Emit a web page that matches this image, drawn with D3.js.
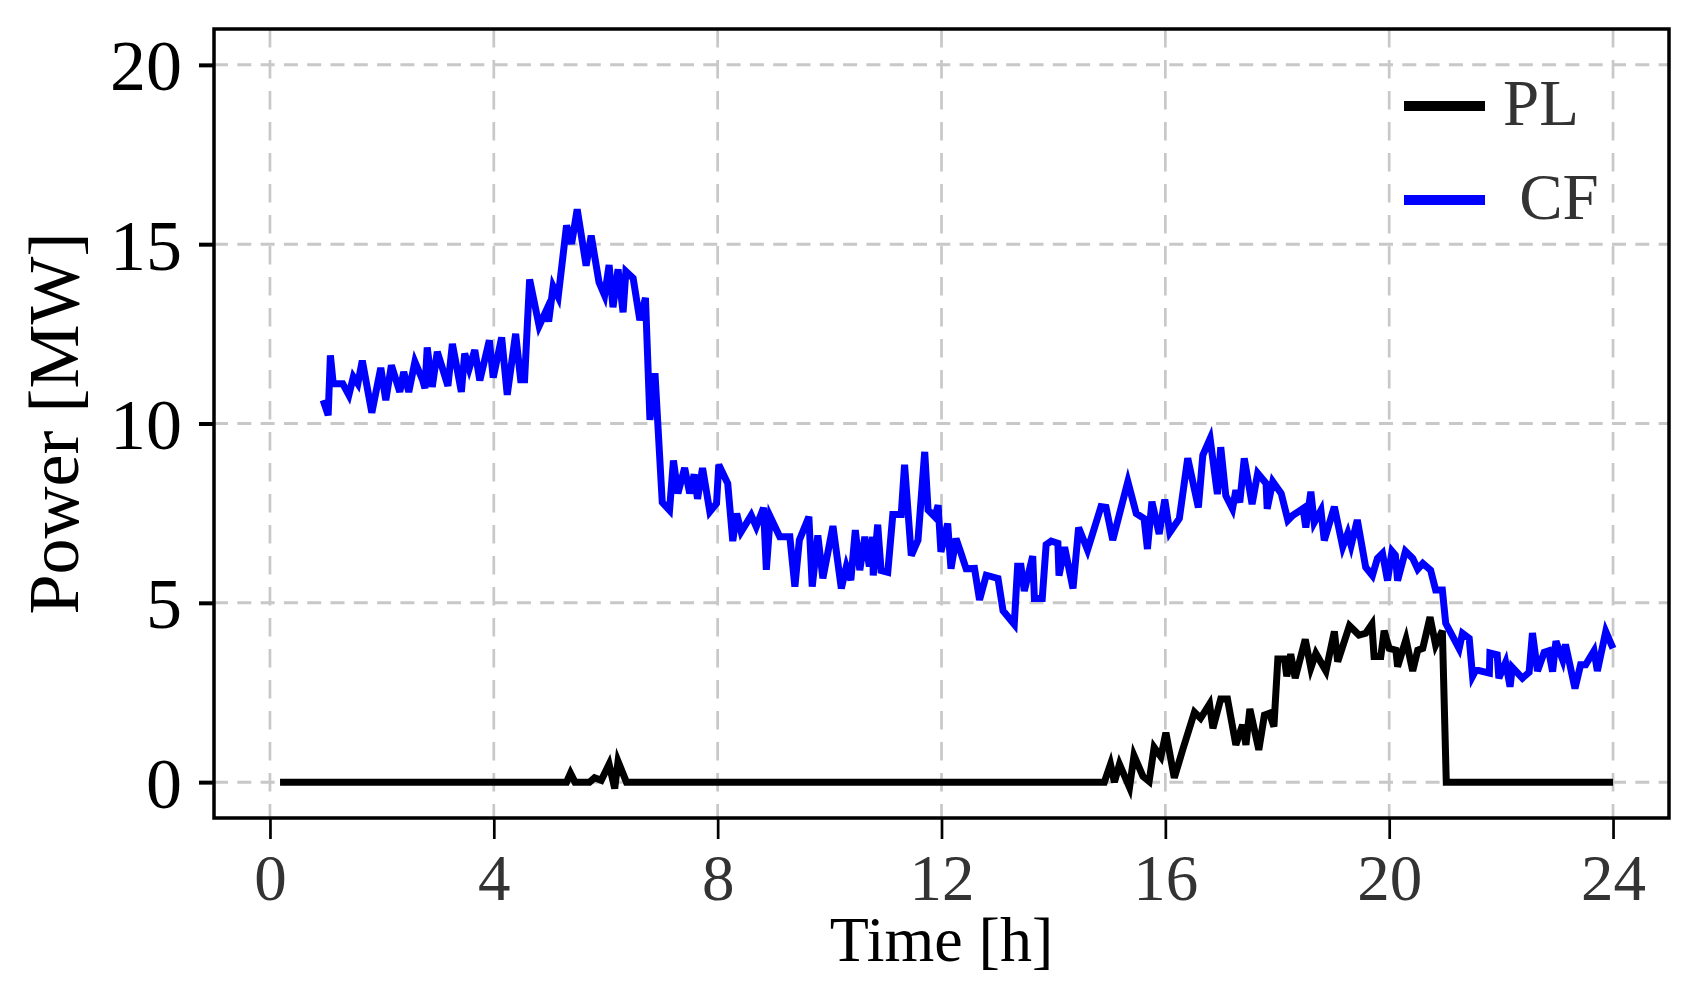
<!DOCTYPE html>
<html>
<head>
<meta charset="utf-8">
<script src="https://cdn.jsdelivr.net/npm/d3@7"></script>
<style>
  html, body { margin: 0; padding: 0; background: #fff; }
  svg { display: block; }
</style>
</head>
<body>
<svg id="chart" width="1700" height="1000"></svg>
<script>
"use strict";

// === Data ===
const cfTime = [0.95, 1.04, 1.08, 1.13, 1.30, 1.41, 1.49, 1.57, 1.65, 1.82, 1.98, 2.07, 2.17, 2.32, 2.39, 2.48,
  2.59, 2.73, 2.77, 2.81, 2.90, 2.99, 3.18, 3.26, 3.42, 3.48, 3.56, 3.66, 3.75, 3.92, 3.99, 4.14, 4.24, 4.39,
  4.48, 4.55, 4.64, 4.81, 4.94, 4.98, 5.06, 5.15, 5.30, 5.39, 5.49, 5.65, 5.74, 5.88, 5.98, 6.06, 6.13, 6.22,
  6.31, 6.36, 6.49, 6.61, 6.71, 6.79, 6.88, 7.01, 7.14, 7.21, 7.29, 7.41, 7.50, 7.58, 7.64, 7.73, 7.86, 7.98,
  8.02, 8.18, 8.27, 8.34, 8.42, 8.60, 8.69, 8.82, 8.87, 8.94, 9.11, 9.29, 9.38, 9.46, 9.63, 9.69, 9.79, 9.88,
  10.06, 10.21, 10.30, 10.38, 10.46, 10.54, 10.63, 10.71, 10.77, 10.78, 10.86, 10.92, 11.04, 11.13, 11.28,
  11.34, 11.46, 11.58, 11.70, 11.76, 11.88, 11.94, 11.99, 12.11, 12.17, 12.26, 12.35, 12.44, 12.59, 12.68,
  12.80, 13.01, 13.10, 13.30, 13.36, 13.42, 13.48, 13.63, 13.66, 13.80, 13.87, 13.96, 14.08, 14.10, 14.20,
  14.35, 14.45, 14.61, 14.85, 14.94, 15.06, 15.33, 15.48, 15.62, 15.68, 15.76, 15.89, 15.99, 16.08, 16.25,
  16.40, 16.59, 16.67, 16.80, 16.93, 16.99, 17.08, 17.20, 17.26, 17.33, 17.41, 17.55, 17.65, 17.80, 17.82,
  17.92, 18.07, 18.19, 18.28, 18.46, 18.51, 18.60, 18.66, 18.78, 18.84, 19.02, 19.17, 19.26, 19.32, 19.43,
  19.58, 19.70, 19.79, 19.88, 19.97, 20.05, 20.11, 20.15, 20.29, 20.42, 20.51, 20.60, 20.74, 20.83, 20.95,
  21.01, 21.25, 21.31, 21.43, 21.49, 21.55, 21.79, 21.80, 21.93, 21.96, 22.08, 22.16, 22.20, 22.38, 22.50,
  22.56, 22.65, 22.77, 22.85, 22.92, 22.98, 23.10, 23.15, 23.32, 23.42, 23.51, 23.66, 23.72, 23.87, 24.00];
const cfPower = [10.65, 10.23, 11.90, 11.11, 11.11, 10.79, 11.30, 11.11, 11.75, 10.30, 11.55, 10.65, 11.62, 10.88,
  11.44, 10.88, 11.72, 11.20, 10.98, 12.12, 11.02, 12.00, 11.05, 12.22, 10.88, 11.95, 11.53, 12.05, 11.20,
  12.32, 11.28, 12.40, 10.80, 12.50, 11.22, 11.22, 14.02, 12.72, 13.16, 12.84, 13.82, 13.53, 15.52, 15.01,
  15.97, 14.40, 15.24, 13.94, 13.57, 14.42, 13.24, 14.30, 13.10, 14.24, 14.05, 12.88, 13.50, 10.10, 11.40,
  7.80, 7.58, 8.97, 8.05, 8.76, 8.05, 8.58, 7.90, 8.76, 7.54, 7.77, 8.85, 8.33, 6.72, 7.49, 6.98, 7.44, 7.12,
  7.65, 5.92, 7.40, 6.84, 6.84, 5.45, 6.75, 7.40, 5.45, 6.88, 5.68, 7.14, 5.40, 6.01, 5.63, 7.03, 5.91, 6.84,
  6.01, 6.84, 5.76, 7.18, 5.90, 5.85, 7.46, 7.46, 8.85, 6.32, 6.75, 9.21, 7.59, 7.40, 7.72, 6.42, 7.21, 5.95,
  6.79, 6.38, 5.95, 5.96, 5.08, 5.77, 5.68, 4.78, 4.40, 6.02, 6.02, 5.33, 6.30, 5.12, 5.12, 6.62, 6.72, 6.66,
  5.76, 6.55, 5.40, 7.10, 6.47, 7.68, 7.66, 6.75, 8.38, 7.49, 7.35, 6.50, 7.82, 6.92, 7.88, 6.96, 7.35, 9.03,
  7.66, 9.12, 9.58, 8.03, 9.34, 7.99, 7.62, 8.14, 7.80, 9.03, 7.75, 8.61, 8.33, 7.62, 8.38, 8.05, 7.30, 7.44,
  7.63, 7.10, 8.10, 7.24, 7.58, 6.74, 7.68, 6.56, 6.94, 6.60, 7.31, 5.99, 5.76, 6.24, 6.38, 5.62, 6.44, 6.33,
  5.62, 6.44, 6.24, 5.94, 6.10, 5.91, 5.36, 5.36, 4.43, 3.72, 4.15, 4.01, 2.95, 3.13, 3.04, 3.60, 3.55, 2.90,
  3.34, 2.66, 3.20, 2.90, 3.06, 4.16, 3.10, 3.62, 3.66, 3.08, 3.93, 3.41, 3.84, 2.61, 3.27, 3.27, 3.66, 3.10,
  4.20, 3.73];

const plTime = [0.18, 5.30, 5.37, 5.45, 5.71, 5.80, 5.92, 6.06, 6.16, 6.22, 6.37, 14.91, 15.02, 15.09, 15.18,
  15.36, 15.44, 15.60, 15.71, 15.80, 15.92, 16.01, 16.16, 16.31, 16.52, 16.63, 16.79, 16.85, 16.99, 17.11,
  17.26, 17.38, 17.44, 17.51, 17.67, 17.77, 17.86, 17.94, 18.01, 18.13, 18.17, 18.24, 18.32, 18.50, 18.60,
  18.69, 18.87, 19.02, 19.08, 19.29, 19.46, 19.58, 19.69, 19.73, 19.85, 19.91, 20.00, 20.12, 20.15, 20.30,
  20.42, 20.51, 20.60, 20.73, 20.83, 20.95, 21.02, 24.00];
const plPower = [0, 0, 0.25, 0, 0, 0.12, 0.05, 0.50, -0.18, 0.58, 0, 0, 0.50, 0, 0.50, -0.15, 0.74, 0.16,
  0.02, 0.97, 0.71, 1.38, 0.12, 0.90, 1.95, 1.78, 2.18, 1.50, 2.32, 2.32, 1.04, 1.60, 1.04, 2.04, 0.90,
  1.87, 1.92, 1.55, 3.43, 3.43, 2.95, 3.57, 2.90, 3.98, 3.18, 3.59, 3.10, 4.20, 3.36, 4.36, 4.10, 4.15,
  4.40, 3.50, 3.50, 4.22, 3.73, 3.68, 3.22, 3.98, 3.10, 3.68, 3.73, 4.60, 3.82, 4.22, 0, 0];

const xTicks = [0, 4, 8, 12, 16, 20, 24];
const yTicks = [0, 5, 10, 15, 20];
const seriesNames = ["PL", " CF"];
const seriesColors = ["#000000", "#0000ff"];

// === Layout ===
const plotLeft = 214, plotRight = 1669, plotTop = 29, plotBottom = 818;
const serif = "'Liberation Serif', 'Times New Roman', Times, serif";

const svg = d3.select("#chart");

const x = d3.scaleLinear().domain([-1, 25]).range([plotLeft, plotRight]);
const y = d3.scaleLinear().domain([-1, 21]).range([plotBottom, plotTop]);

// === Grid (dashed, light grey) ===
const grid = svg.append("g").attr("stroke", "#c8c8c8");
grid.selectAll("line.gx").data(xTicks).join("line")
  .attr("class", "gx")
  .attr("x1", d => x(d)).attr("x2", d => x(d))
  .attr("y1", plotTop).attr("y2", plotBottom)
  .attr("stroke-width", 2.7)
  .attr("stroke-dasharray", "18.5,12.5");
grid.selectAll("line.gy").data(yTicks).join("line")
  .attr("class", "gy")
  .attr("x1", plotLeft).attr("x2", plotRight)
  .attr("y1", d => y(d)).attr("y2", d => y(d))
  .attr("stroke-width", 3)
  .attr("stroke-dasharray", "14,9.3");

// === Series ===
const line = d3.line().x(d => x(d[0])).y(d => y(d[1]));
const plData = plTime.map((t, i) => [t, plPower[i]]);
const cfData = cfTime.map((t, i) => [t, cfPower[i]]);

svg.append("path").datum(plData)
  .attr("d", line)
  .attr("fill", "none")
  .attr("stroke", seriesColors[0])
  .attr("stroke-width", 7)
  .attr("stroke-linejoin", "miter");

svg.append("path").datum(cfData)
  .attr("d", line)
  .attr("fill", "none")
  .attr("stroke", seriesColors[1])
  .attr("stroke-width", 7)
  .attr("stroke-linejoin", "miter");

// === Axes ===
const xAxis = svg.append("g")
  .attr("transform", `translate(0,${plotBottom})`)
  .call(d3.axisBottom(x).tickValues(xTicks).tickSize(21).tickFormat(d3.format("d")));
xAxis.select(".domain").remove();
xAxis.selectAll(".tick line").attr("stroke", "#000").attr("stroke-width", 2.7);
xAxis.selectAll(".tick text")
  .attr("y", 82).attr("dy", null)
  .attr("fill", "#333")
  .style("font-family", serif)
  .style("font-size", "65px");

const yAxis = svg.append("g")
  .attr("transform", `translate(${plotLeft},0)`)
  .call(d3.axisLeft(y).tickValues(yTicks).tickSize(15).tickFormat(d3.format("d")));
yAxis.select(".domain").remove();
yAxis.selectAll(".tick line").attr("stroke", "#000").attr("stroke-width", 4);
yAxis.selectAll(".tick text")
  .attr("x", -32).attr("dy", 25)
  .attr("fill", "#000")
  .style("font-family", serif)
  .style("font-size", "72px");

// === Frame ===
svg.append("rect")
  .attr("x", plotLeft).attr("y", plotTop)
  .attr("width", plotRight - plotLeft).attr("height", plotBottom - plotTop)
  .attr("fill", "none")
  .attr("stroke", "#000")
  .attr("stroke-width", 3.5);

// === Axis labels ===
svg.append("text")
  .attr("x", (plotLeft + plotRight) / 2).attr("y", 961)
  .attr("text-anchor", "middle")
  .attr("fill", "#000")
  .style("font-family", serif)
  .style("font-size", "64px")
  .text("Time [h]");

svg.append("text")
  .attr("transform", `translate(78,${(plotTop + plotBottom) / 2}) rotate(-90)`)
  .attr("text-anchor", "middle")
  .attr("fill", "#000")
  .style("font-family", serif)
  .style("font-size", "72px")
  .text("Power [MW]");

// === Legend ===
const legendY = [106, 200];
const legend = svg.append("g");
legend.selectAll("line").data(seriesNames).join("line")
  .attr("x1", 1404).attr("x2", 1485)
  .attr("y1", (d, i) => legendY[i]).attr("y2", (d, i) => legendY[i])
  .attr("stroke", (d, i) => seriesColors[i])
  .attr("stroke-width", 10);
legend.selectAll("text").data(seriesNames).join("text")
  .attr("x", 1503)
  .attr("y", (d, i) => legendY[i] + 19)
  .attr("fill", "#333")
  .style("white-space", "pre")
  .style("font-family", serif)
  .style("font-size", "65px")
  .text(d => d);
</script>
</body>
</html>
